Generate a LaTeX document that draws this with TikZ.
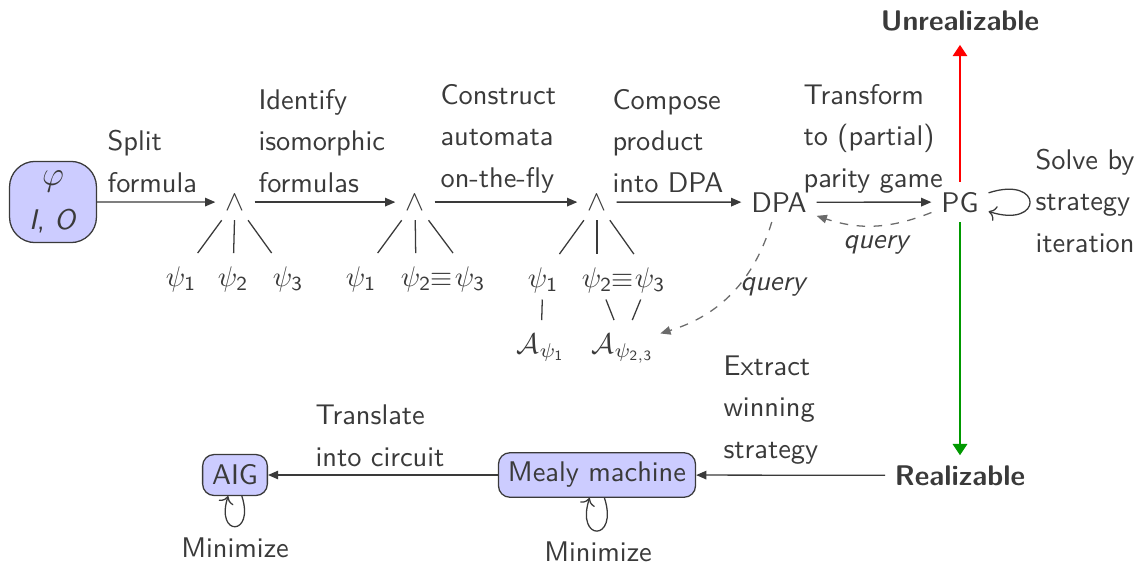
\documentclass[tikz,border=0pt]{standalone}
\usetikzlibrary{arrows.meta}
\definecolor{ink}{HTML}{3A3A3A}
\definecolor{boxfill}{HTML}{CCCCFF}
\definecolor{failred}{HTML}{FF0000}
\definecolor{passgreen}{HTML}{009900}
\begin{document}
\begin{tikzpicture}[x=0.352pt,y=-0.352pt,
  every node/.style={text=ink, font=\sffamily\fontsize{10}{14.6}\selectfont},
  txt/.style={inner sep=0pt, align=left, anchor=base west},
  op/.style={inner sep=3.4pt, anchor=base},
  leaf/.style={inner xsep=2pt, inner ysep=3.4pt, text height=8pt, text depth=0.8pt, anchor=base},
  tight/.style={inner sep=0pt, anchor=base},
  flow/.style={draw=ink, line width=0.45pt, -{Triangle[length=3.6pt,width=3pt]}},
  branch/.style={draw=ink, line width=0.45pt},
  qry/.style={draw=ink!75, dashed, line width=0.45pt, -{Triangle[length=3.6pt,width=3pt]}},
  selfloop/.style={draw=ink, line width=0.45pt, ->, min distance=6mm},
  box/.style={draw=ink, fill=boxfill, rounded corners=4pt, line width=0.45pt},
  verdict/.style={font=\sffamily\bfseries, inner sep=3.3pt, anchor=base},
  outcome/.style={line width=0.9pt, -{Triangle[length=4pt,width=5pt]}},
]
\useasboundingbox (0,0) rectangle (1140,564);

% specification
\node[box, rounded corners=9pt, minimum width=30.6pt, minimum height=27.5pt,
      align=center, font=\sffamily\fontsize{10}{15.5}\selectfont]
      (spec) at (53,202) {{\fontsize{13}{15}\selectfont$\varphi$}\\\textit{I}, \textit{O}};

% decomposition into conjuncts
\node[op] (and1) at (235,210) {$\wedge$};
\node[leaf] (a1) at (181,286) {$\psi_{\mathsf{1}}$};
\node[leaf] (a2) at (233,286) {$\psi_{\mathsf{2}}$};
\node[leaf] (a3) at (288,286) {$\psi_{\mathsf{3}}$};
\draw[branch] (and1) -- (a1);
\draw[branch] (and1) -- (a2);
\draw[branch] (and1) -- (a3);

% isomorphic conjuncts
\node[op] (and2) at (415,210) {$\wedge$};
\node[leaf] (b1) at (361,286) {$\psi_{\mathsf{1}}$};
\node[leaf] (b2) at (416,286) {$\psi_{\mathsf{2}}$};
\node[leaf] (b3) at (470,286) {$\psi_{\mathsf{3}}$};
\node[tight] (beq) at (442,286) {$\equiv$};
\draw[branch] (and2) -- (b1);
\draw[branch] (and2) -- (b2);
\draw[branch] (and2) -- (b3);

% automata per conjunct
\node[op] (and3) at (597,210) {$\wedge$};
\node[leaf] (c1) at (543,287) {$\psi_{\mathsf{1}}$};
\node[leaf] (c2) at (597,287) {$\psi_{\mathsf{2}}$};
\node[leaf] (c3) at (650,287) {$\psi_{\mathsf{3}}$};
\node[tight] (ceq) at (623,287) {$\equiv$};
\draw[branch] (and3) -- (c1);
\draw[branch] (and3) -- (c2);
\draw[branch] (and3) -- (c3);
\node[leaf] (A1) at (541,353) {$\mathcal{A}_{\psi_{\mathsf{1}}}$};
\node[leaf] (A23) at (623,353) {$\mathcal{A}_{\psi_{\mathsf{2,3}}}$};
\draw[branch] (c1) -- (A1);
\draw[branch] (c2) -- (A23);
\draw[branch] (c3) -- (A23);

% product automaton and game
\node[anchor=base] (dpa) at (779,212) {DPA};
\node[anchor=base] (pg) at (960,212) {PG};
\node[verdict] (unreal) at (960,30) {Unrealizable};
\node[verdict] (real) at (960,485) {Realizable};

% implementation
\node[box] (mealy) at (597,475) {Mealy machine};
\node[box, minimum height=14.4pt] (aig) at (235,475) {AIG};
\node[anchor=base] (minaig) at (235,557) {Minimize};
\node[anchor=base] (minmealy) at (598,561) {Minimize};

% step descriptions (anchored at the baseline of their last line)
\node[txt] (l1) at (107,192) {Split\\formula};
\node[txt] (l2) at (258,192) {Identify\\isomorphic\\formulas};
\node[txt] (l3) at (440,187) {Construct\\automata\\on-the-fly};
\node[txt] (l4) at (612,192) {Compose\\product\\into DPA};
\node[txt] (l5) at (803,187) {Transform\\to (partial)\\parity game};
\node[txt] (l6) at (1035,252) {Solve by\\strategy\\iteration};
\node[txt] (l7) at (723,458) {Extract\\winning\\strategy};
\node[txt] (l8) at (315,466) {Translate\\into circuit};
\node[txt] (q1) at (843,248) {\textit{query}};
\node[txt] (q2) at (740,290) {\textit{query}};

% pipeline
\draw[flow] (spec) -- (and1);
\draw[flow] (and1) -- (and2);
\draw[flow] (and2) -- (and3);
\draw[flow] (and3) -- (dpa);
\draw[flow] (dpa) -- (pg);
\draw[qry] (pg) to[bend left=20] (dpa);
\draw[qry] (dpa) to[bend left=28] (A23);
\draw[selfloop] (pg) to[out=18,in=-18,loop] (pg);
\draw[outcome, failred, shorten >=1.5pt] (pg) -- (unreal);
\draw[outcome, passgreen] (pg) -- (real);
\draw[flow] (real) -- (mealy);
\draw[flow] (mealy) -- (aig);
\draw[selfloop] (mealy) to[out=-72,in=-108,loop] (mealy);
\draw[selfloop] (aig) to[out=-72,in=-108,loop] (aig);
\end{tikzpicture}
\end{document}
